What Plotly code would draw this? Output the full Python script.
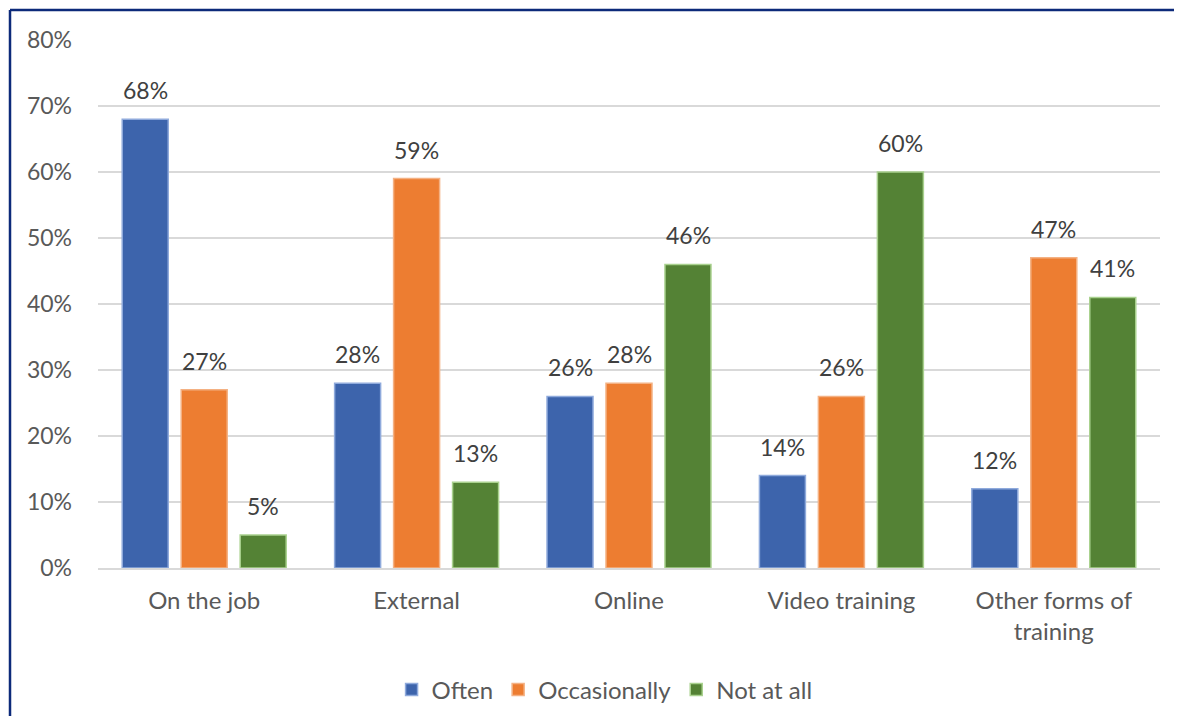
import plotly.graph_objects as go

categories = ["On the job", "External", "Online", "Video training", "Other forms of<br>training"]
often = [68, 28, 26, 14, 12]
occasionally = [27, 59, 28, 26, 47]
not_at_all = [5, 13, 46, 60, 41]
series_names = ["Often", "Occasionally", "Not at all"]
y_ticks = [0, 10, 20, 30, 40, 50, 60, 70, 80]

FONT = "Lato"
fills = ["#3D64AC", "#ED7D31", "#548235"]
edges = ["#8FAADC", "#F4B183", "#A9D18E"]
label_xshift = [-59, 0, 59]

fig = go.Figure()
annotations = []
for name, vals, fc, ec, dx in zip(series_names, [often, occasionally, not_at_all], fills, edges, label_xshift):
    fig.add_trace(go.Bar(
        x=categories, y=vals, name=name,
        marker=dict(color=fc, line=dict(color=ec, width=1.5)),
    ))
    for c, v in zip(categories, vals):
        annotations.append(dict(
            x=c, y=v, xref="x", yref="y", text=f"{v}%", showarrow=False,
            xanchor="center", yanchor="bottom", xshift=dx, yshift=13,
            font=dict(family=FONT, size=23, color="#404040"),
        ))

W, H = 1166, 708
L, R, T, B = 90, 14, 32, 148
pw, ph = W - L - R, H - T - B
bx = (2 - L) / pw
bx_end = (W - L) / pw
by = (ph + T - 2) / ph

fig.update_layout(
    width=W, height=H,
    margin=dict(l=L, r=R, t=T, b=B, pad=0, autoexpand=False),
    paper_bgcolor="white", plot_bgcolor="white",
    barmode="group", bargap=0.167, bargroupgap=0.22,
    font=dict(family=FONT, size=24, color="#595959"),
    xaxis=dict(showgrid=False, showline=True, linecolor="#D9D9D9", linewidth=2,
               ticks="", ticklabelstandoff=10,
               tickfont=dict(family=FONT, size=24, color="#595959")),
    yaxis=dict(range=[0, 80], tickvals=y_ticks, ticktext=[f"{v}%" for v in y_ticks],
               showgrid=True, gridcolor="#D9D9D9", gridwidth=2, zeroline=False,
               showline=False, ticks="", ticklabelstandoff=25,
               tickfont=dict(family=FONT, size=23, color="#595959")),
    legend=dict(orientation="h", x=0.477, xanchor="center", y=-0.231, yanchor="middle",
                font=dict(family=FONT, size=24, color="#595959"),
                itemwidth=30, tracegroupgap=0, bgcolor="rgba(0,0,0,0)"),
    showlegend=True,
    annotations=annotations,
    shapes=[
        dict(type="line", xref="paper", yref="paper", x0=bx, x1=bx, y0=-2, y1=by,
             line=dict(color="#0C2A7A", width=2.5)),
        dict(type="line", xref="paper", yref="paper", x0=bx, x1=bx_end, y0=by, y1=by,
             line=dict(color="#0C2A7A", width=2.5)),
    ],
)

fig.write_html("out.html")
